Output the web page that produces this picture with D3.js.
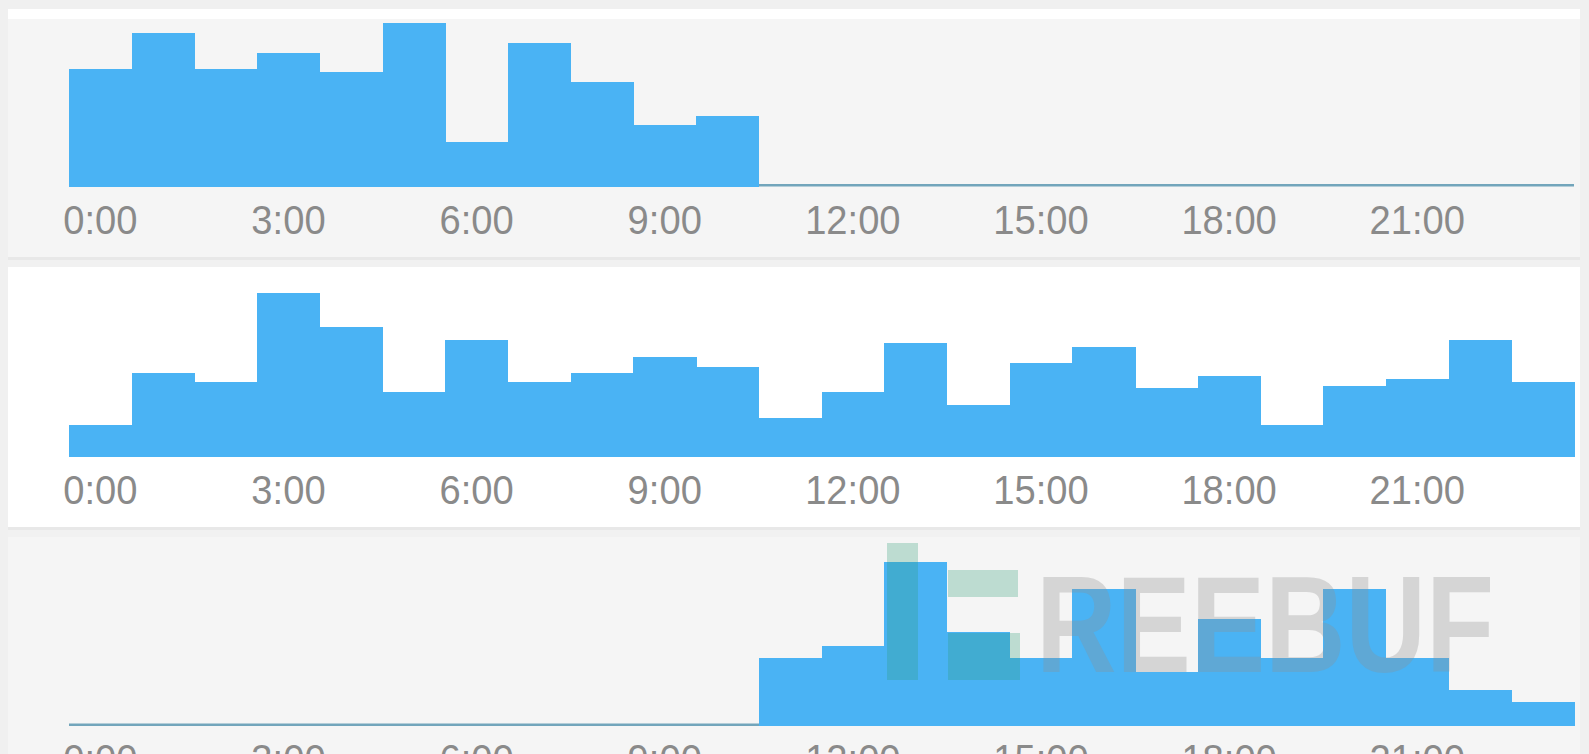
<!DOCTYPE html>
<html><head><meta charset="utf-8">
<script src="https://cdn.jsdelivr.net/npm/d3@7"></script>
<style>
html,body{margin:0;padding:0;background:#f0f0f0;overflow:hidden}
svg{display:block}
</style></head><body>
<svg id="c" width="1589" height="754"></svg>
<script>
// ---- data ----
const hours = [0,1,2,3,4,5,6,7,8,9,10,11,12,13,14,15,16,17,18,19,20,21,22,23];
const tickHours = [0,3,6,9,12,15,18,21];
const tickLabels = ["0:00","3:00","6:00","9:00","12:00","15:00","18:00","21:00"];
const seriesA = [118,154,118,134,115,164,45,144,105,62,71,0,0,0,0,0,0,0,0,0,0,0,0,0];
const seriesB = [32,85,75,165,131,65,118,75,85,101,91,39,65,115,52,95,111,69,81,32,71,78,118,75];
const seriesC = [0,0,0,0,0,0,0,0,0,0,0,68,80,163,93,68,136,54,106,68,136,68,36,24];
const watermark = "REEBUF";

// ---- layout ----
const svg = d3.select("#c");
const BLUE = "#4ab3f4";
svg.append("rect").attr("x",8).attr("y",9).attr("width",1572).attr("height",745).attr("fill","#ffffff");

const panels = [
  {data: seriesA, top: 19,  bottom: 257, base: 186.5, bg: "#f5f5f5"},
  {data: seriesB, top: 267, bottom: 527, base: 457,   bg: "#ffffff"},
  {data: seriesC, top: 537, bottom: 754, base: 726,   bg: "#f5f5f5"}
];

// separators
[[257,267],[527,537]].forEach(([a,b]) => {
  svg.append("rect").attr("x",8).attr("y",a).attr("width",1572).attr("height",b-a).attr("fill","#f1f1f1");
  svg.append("rect").attr("x",8).attr("y",a).attr("width",1572).attr("height",3).attr("fill","#e8e8e8");
});

const x = d3.scaleBand().domain(hours).range([69, 1574]).paddingInner(0).paddingOuter(0);

panels.forEach(p => {
  svg.append("rect").attr("x",8).attr("y",p.top).attr("width",1572)
     .attr("height",p.bottom - p.top).attr("fill",p.bg);
  const y = d3.scaleLinear().domain([0, d3.max(p.data)]).range([p.base, p.base - 164]);

  // zero line
  svg.append("rect").attr("x", x(hours[0])).attr("y", p.base - 2.5)
     .attr("width", x.range()[1] - x.range()[0]).attr("height", 2.5).attr("fill", "#72a5bb");

  svg.append("g").attr("shape-rendering","crispEdges")
    .selectAll("rect").data(hours.filter((h,i) => p.data[i] > 0)).join("rect")
    .attr("x", h => x(h))
    .attr("y", h => y(p.data[h]))
    .attr("width", x.bandwidth() + 0.5)
    .attr("height", h => y(0) - y(p.data[h]))
    .attr("fill", BLUE);

  const axis = d3.axisBottom(x).tickValues(tickHours)
     .tickFormat(d => tickLabels[tickHours.indexOf(d)])
     .tickSize(0).tickPadding(18);
  const g = svg.append("g").attr("transform", `translate(0,${p.base})`).call(axis);
  g.select(".domain").remove();
  g.selectAll("text")
    .attr("font-family", "'Liberation Sans', Arial, sans-serif")
    .attr("font-size", 41)
    .attr("fill", "#8a8a8a")
    .each(function(){
      const len = this.getComputedTextLength();
      d3.select(this).attr("textLength", len * 0.93).attr("lengthAdjust", "spacingAndGlyphs");
    });
});

// watermark (FREEBUF logo overlay in the last panel)
const wm = svg.append("g");
const teal = wm.append("g").attr("fill", "#2a9d74").attr("opacity", 0.27);
teal.append("rect").attr("x", 887).attr("y", 543).attr("width", 31).attr("height", 137);
teal.append("rect").attr("x", 948).attr("y", 570).attr("width", 70).attr("height", 27);
teal.append("rect").attr("x", 948).attr("y", 633).attr("width", 72).attr("height", 47);
wm.append("text").attr("x", 1036).attr("y", 672)
  .attr("font-family", "'Liberation Sans', Arial, sans-serif")
  .attr("font-weight", "bold").attr("font-size", 137)
  .attr("fill", "#8f8f8f").attr("opacity", 0.3)
  .attr("textLength", 458).attr("lengthAdjust", "spacingAndGlyphs")
  .text(watermark);
</script>
</body></html>
